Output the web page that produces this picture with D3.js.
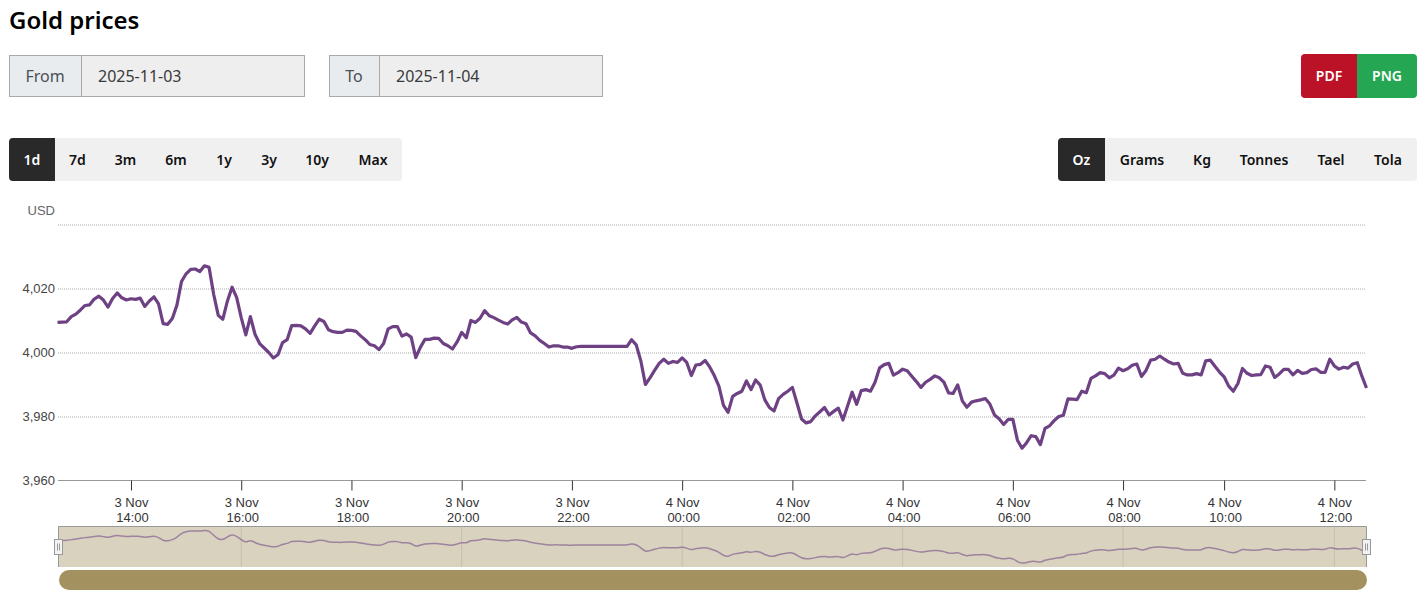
<!DOCTYPE html>
<html>
<head>
<meta charset="utf-8">
<title>Gold prices</title>
<script src="https://cdn.jsdelivr.net/npm/d3@7"></script>
<style>
  html, body { margin: 0; padding: 0; background: #fff; overflow: hidden; }
  svg { display: block; }
  .ui { font-family: "Noto Sans", sans-serif; }
  .chart text { font-family: "Liberation Sans", Arial, sans-serif; }
</style>
</head>
<body>
<svg id="page" width="1424" height="603"></svg>
<script>
const prices = [
  4009.4, 4009.5, 4009.6, 4011.2, 4012, 4013.3, 4014.7, 4014.9, 4016.7, 4017.6,
  4016.4, 4014.2, 4016.9, 4018.6, 4017.1, 4016.4, 4016.8, 4016.6, 4017, 4014.4,
  4016.1, 4017.4, 4015.2, 4009, 4008.8, 4010.6, 4014.8, 4022.2, 4024.6, 4026,
  4026.1, 4025.3, 4027.1, 4026.6, 4018.2, 4011.6, 4010.4, 4016.1, 4020.4, 4017.2,
  4010.9, 4005.5, 4011.2, 4005.7, 4002.8, 4001.4, 4000, 3998.3, 3999.3, 4003.1,
  4004, 4008.4, 4008.5, 4008.3, 4007.4, 4006, 4008.3, 4010.4, 4009.7, 4007.1,
  4006.5, 4006.3, 4006.3, 4007, 4006.9, 4006.6, 4005.2, 4004, 4002.5, 4002.1,
  4000.9, 4002.8, 4007.4, 4008.1, 4008.1, 4005.1, 4005.8, 4004.8, 3998.4, 4001.6,
  4004.1, 4004.1, 4004.5, 4004.4, 4002.8, 4002.1, 4001.1, 4003.3, 4006.3, 4004.6,
  4010, 4009.4, 4010.7, 4013.1, 4011.5, 4010.9, 4010.1, 4009.4, 4008.9, 4010.2,
  4011, 4009.5, 4009, 4006.1, 4005.2, 4003.8, 4002.8, 4001.7, 4002.1, 4002.1,
  4001.7, 4001.7, 4001.3, 4001.8, 4001.9, 4001.9, 4001.9, 4001.9, 4001.9, 4001.9,
  4001.9, 4001.9, 4001.9, 4001.9, 4001.9, 4004, 4002.4, 3997.4, 3990, 3992.1,
  3994.4, 3996.6, 3997.9, 3996.6, 3997.2, 3996.9, 3998.3, 3996.9, 3992.8, 3996.1,
  3996.3, 3997.5, 3995.5, 3992.8, 3989.5, 3983.5, 3981.3, 3986.3, 3987.2, 3987.9,
  3991.1, 3988.4, 3991.4, 3989.8, 3985.2, 3982.8, 3981.7, 3985.6, 3986.9, 3987.9,
  3989.1, 3984.2, 3979.2, 3978, 3978.4, 3980.2, 3981.5, 3982.8, 3980.5, 3981.6,
  3982.6, 3978.9, 3983.2, 3987.6, 3983.8, 3988.1, 3988.4, 3987.9, 3990.7, 3995.2,
  3996.2, 3996.6, 3992.9, 3993.7, 3994.8, 3994.3, 3992.6, 3990.9, 3989.1, 3990.7,
  3991.6, 3992.7, 3992.1, 3990.7, 3987.4, 3987.2, 3989.9, 3984.9, 3982.9, 3984.5,
  3984.9, 3985.2, 3985.6, 3983.9, 3980.5, 3979.3, 3977.5, 3979.1, 3979.1, 3972.6,
  3970.1, 3971.8, 3974, 3973.7, 3971.2, 3976.3, 3977.1, 3978.7, 3980, 3980.4,
  3985.5, 3985.4, 3985.3, 3987.9, 3987.4, 3991.9, 3992.7, 3993.7, 3993.4, 3992.1,
  3992.9, 3995.1, 3994.3, 3994.9, 3996, 3996.4, 3992.5, 3994.4, 3997.6, 3997.9,
  3998.9, 3997.9, 3997, 3996.4, 3996.6, 3993.5, 3993, 3993, 3993.4, 3993,
  3997.4, 3997.6, 3995.7, 3993.9, 3992.4, 3989.5, 3987.9, 3990.3, 3995, 3993.5,
  3992.8, 3993, 3993.1, 3995.8, 3995.4, 3992.2, 3993.3, 3994.7, 3994.7, 3993,
  3994.4, 3993.5, 3993.7, 3994.7, 3994.9, 3993.8, 3993.8, 3997.9, 3995.8, 3994.8,
  3995.4, 3995.1, 3996.4, 3996.8, 3992.6, 3988.9
];

// the axis is ordinal: positions follow the sample number, not the clock
const tickSamples = [16, 40, 64, 88, 112, 136, 160, 184, 208, 232, 254, 278];
const tickDays = ['3 Nov', '3 Nov', '3 Nov', '3 Nov', '3 Nov', '4 Nov', '4 Nov', '4 Nov', '4 Nov', '4 Nov', '4 Nov', '4 Nov'];
const tickHours = ['14:00', '16:00', '18:00', '20:00', '22:00', '00:00', '02:00', '04:00', '06:00', '08:00', '10:00', '12:00'];
const navigatorSamples = [40, 88, 136, 184, 232, 278];
const priceTicks = [3960, 3980, 4000, 4020, 4040];

const rangeLabels = ['1d', '7d', '3m', '6m', '1y', '3y', '10y', 'Max'];
const rangeCentres = [32, 77.5, 125.5, 176, 224, 269, 317, 373];
const unitLabels = ['Oz', 'Grams', 'Kg', 'Tonnes', 'Tael', 'Tola'];
const unitCentres = [1081.5, 1142, 1202, 1264, 1331, 1388];

const svg = d3.select('#page');

function drawDateField(x, labelWidth, fieldWidth, label, value) {
  const g = svg.append('g').attr('class', 'ui');
  g.append('rect').attr('x', x + 0.5).attr('y', 55.5).attr('width', labelWidth)
    .attr('height', 41).attr('fill', '#e9ecef').attr('stroke', '#a9a9a9');
  g.append('rect').attr('x', x + labelWidth + 0.5).attr('y', 55.5).attr('width', fieldWidth)
    .attr('height', 41).attr('fill', '#eeeeee').attr('stroke', '#a9a9a9');
  g.append('text').attr('x', x + labelWidth / 2).attr('y', 82).attr('text-anchor', 'middle')
    .attr('font-size', 16).attr('fill', '#495057').text(label);
  g.append('text').attr('x', x + labelWidth + 17).attr('y', 82)
    .attr('font-size', 16).attr('fill', '#3a3a3a').text(value);
}

function drawButtonGroup(x, width, activeWidth, labels, centres) {
  const g = svg.append('g').attr('class', 'ui');
  g.append('rect').attr('x', x).attr('y', 138).attr('width', width).attr('height', 43)
    .attr('rx', 4).attr('fill', '#f0f0f0');
  g.append('path')
    .attr('d', `M${x + activeWidth},138H${x + 4}a4,4 0 0 0 -4,4V177a4,4 0 0 0 4,4H${x + activeWidth}Z`)
    .attr('fill', '#292929');
  g.selectAll('text').data(labels).enter().append('text')
    .attr('x', (d, i) => centres[i])
    .attr('y', 165)
    .attr('text-anchor', 'middle')
    .attr('font-size', 14)
    .attr('font-weight', 600)
    .attr('fill', (d, i) => i === 0 ? '#fff' : '#111')
    .text(d => d);
}

function drawHeader() {
  svg.append('text').attr('class', 'ui').attr('x', 9).attr('y', 29)
    .attr('font-size', 24).attr('font-weight', 600).attr('fill', '#000').text('Gold prices');
  drawDateField(9, 72, 223, 'From', '2025-11-03');
  drawDateField(329, 50, 223, 'To', '2025-11-04');

  const exportGroup = svg.append('g').attr('class', 'ui');
  exportGroup.append('path').attr('d', 'M1357,54H1305a4,4 0 0 0 -4,4V94a4,4 0 0 0 4,4H1357Z').attr('fill', '#bb1228');
  exportGroup.append('path').attr('d', 'M1357,54H1413a4,4 0 0 1 4,4V94a4,4 0 0 1 -4,4H1357Z').attr('fill', '#24a652');
  exportGroup.selectAll('text').data(['PDF', 'PNG']).enter().append('text')
    .attr('x', (d, i) => i === 0 ? 1329 : 1387)
    .attr('y', 81)
    .attr('text-anchor', 'middle')
    .attr('font-size', 14)
    .attr('font-weight', 600)
    .attr('fill', '#fff')
    .text(d => d);

  drawButtonGroup(9, 393, 46, rangeLabels, rangeCentres);
  drawButtonGroup(1058, 359, 47, unitLabels, unitCentres);
}

function drawChart() {
  const chart = svg.append('g').attr('class', 'chart');
  const x = d3.scaleLinear().domain([0, prices.length - 1]).range([57.5, 1366.5]);
  const y = d3.scaleLinear().domain([3960, 4040]).range([480.5, 224.5]);

  const yAxis = d3.axisLeft(y)
    .tickValues(priceTicks)
    .tickSize(0)
    .tickPadding(3)
    .tickFormat(d => d === 4040 ? '' : d3.format(',')(d));
  const yGroup = chart.append('g').attr('transform', 'translate(58,0)').call(yAxis);
  yGroup.select('.domain').remove();
  yGroup.selectAll('text')
    .attr('font-size', 13).attr('fill', '#444').attr('dy', '0.28em');
  yGroup.selectAll('.tick').filter(d => d !== 3960).append('line')
    .attr('x2', 1308).attr('stroke', '#aaa').attr('stroke-dasharray', '1,1');

  chart.append('text').attr('x', 55).attr('y', 214.5).attr('text-anchor', 'end')
    .attr('font-size', 13).attr('fill', '#666').text('USD');

  const xAxis = d3.axisBottom(x).tickValues(tickSamples).tickSize(10).tickFormat('');
  const xGroup = chart.append('g').attr('transform', 'translate(0,480.5)').call(xAxis);
  xGroup.select('.domain').attr('d', 'M58,0H1366').attr('stroke', '#999');
  xGroup.selectAll('.tick line').attr('stroke', '#333');
  xGroup.selectAll('.tick').each(function (d, i) {
    const tick = d3.select(this);
    tick.select('text').remove();
    tick.append('text').attr('y', 26).attr('text-anchor', 'middle')
      .attr('font-size', 13).attr('fill', '#333').text(tickDays[i]);
    tick.append('text').attr('x', 1).attr('y', 41).attr('text-anchor', 'middle')
      .attr('font-size', 13).attr('fill', '#333').text(tickHours[i]);
  });

  const line = d3.line().x((d, i) => x(i)).y(d => y(d));
  chart.append('path').datum(prices)
    .attr('d', line)
    .attr('fill', 'none')
    .attr('stroke', '#6e4184')
    .attr('stroke-width', 3.2)
    .attr('stroke-linejoin', 'round');

  drawNavigator(chart, x);
}

function drawNavigator(chart, x) {
  const navY = d3.scaleLinear().domain([3970, 4027.1]).range([563.5, 530.3]);
  const nav = chart.append('g');

  nav.append('rect').attr('x', 58.5).attr('y', 526.5).attr('width', 1308).attr('height', 40.5)
    .attr('fill', '#d9d2bf');
  nav.selectAll('line.grid').data(navigatorSamples).enter().append('line')
    .attr('class', 'grid')
    .attr('x1', d => x(d)).attr('x2', d => x(d))
    .attr('y1', 527).attr('y2', 567)
    .attr('stroke', '#c5bfae');
  nav.append('path').attr('d', 'M58.5,567V526.5H1366.5V567')
    .attr('fill', 'none').attr('stroke', '#999');

  const navLine = d3.line().x((d, i) => x(i)).y(d => navY(d)).curve(d3.curveBasis);
  nav.append('path').datum(prices)
    .attr('d', navLine)
    .attr('fill', 'none')
    .attr('stroke', '#6e4184')
    .attr('stroke-opacity', 0.55)
    .attr('stroke-width', 1.5);

  const handles = nav.selectAll('g.handle').data([58.5, 1366.5]).enter().append('g')
    .attr('class', 'handle')
    .attr('transform', d => `translate(${d},539.5)`);
  handles.append('rect').attr('x', -4).attr('width', 8).attr('height', 15)
    .attr('fill', '#f2f2f2').attr('stroke', '#999');
  handles.selectAll('line').data([-1, 1]).enter().append('line')
    .attr('x1', d => d).attr('x2', d => d).attr('y1', 4).attr('y2', 11)
    .attr('stroke', '#999');

  nav.append('rect').attr('x', 59).attr('y', 570).attr('width', 1308).attr('height', 20)
    .attr('rx', 10).attr('fill', '#a39160');
}

drawHeader();
drawChart();
</script>
</body>
</html>
